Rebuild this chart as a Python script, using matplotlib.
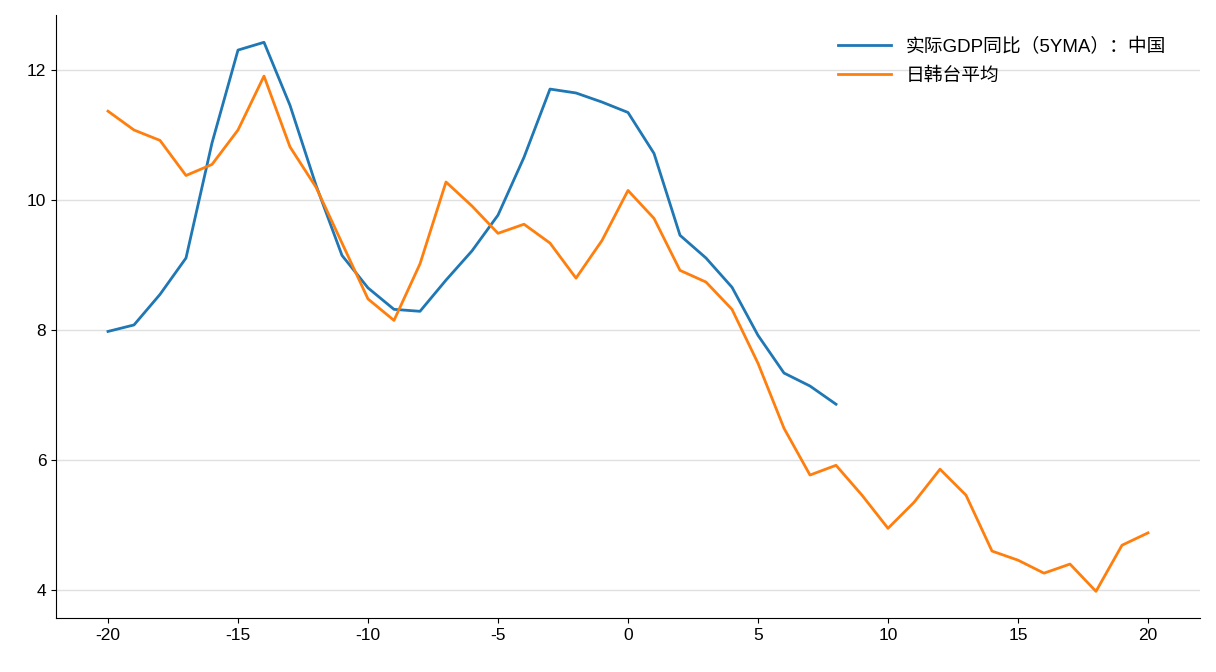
import matplotlib.pyplot as plt
import numpy as np

plt.rcParams['font.family'] = ['Liberation Sans', 'Noto Sans CJK SC', 'DejaVu Sans']
plt.rcParams['axes.unicode_minus'] = False

x_china = np.arange(-20, 9)
china = [7.98, 8.08, 8.55, 9.11, 10.88, 12.31, 12.43, 11.46, 10.23, 9.15,
         8.65, 8.32, 8.29, 8.77, 9.22, 9.77, 10.66, 11.71, 11.65, 11.51,
         11.35, 10.72, 9.46, 9.11, 8.66, 7.92, 7.34, 7.14, 6.86]
x_avg = np.arange(-20, 21)
avg = [11.37, 11.08, 10.92, 10.38, 10.55, 11.08, 11.91, 10.82, 10.2, 9.34,
       8.48, 8.15, 9.02, 10.28, 9.91, 9.49, 9.63, 9.34, 8.8, 9.38,
       10.15, 9.72, 8.92, 8.74, 8.32, 7.49, 6.49, 5.77, 5.92, 5.46,
       4.95, 5.35, 5.86, 5.46, 4.6, 4.46, 4.26, 4.4, 3.98, 4.69, 4.88]

fig = plt.figure(figsize=(12.16, 6.72), dpi=100)
ax = fig.add_axes([56/1216, 1-618/672, 1144/1216, 603/672])
ax.plot(x_china, china, color='#1f77b4', lw=2, label='实际GDP同比（5YMA）：中国')
ax.plot(x_avg, avg, color='#ff7f0e', lw=2, label='日韩台平均')
ax.set_xlim(-22, 22)
ax.set_ylim(3.57, 12.85)
ax.set_xticks(range(-20, 21, 5))
ax.set_yticks([4, 6, 8, 10, 12])
ax.grid(axis='y', color='#e0e0e0', lw=1)
ax.set_axisbelow(True)
ax.spines['top'].set_visible(False)
ax.spines['right'].set_visible(False)
ax.tick_params(labelsize=12.5)
ax.legend(loc='upper right', frameon=False, fontsize=13.5, handlelength=2.8,
          labelspacing=0.6, bbox_to_anchor=(0.985, 0.99))
fig.savefig('out.png')
